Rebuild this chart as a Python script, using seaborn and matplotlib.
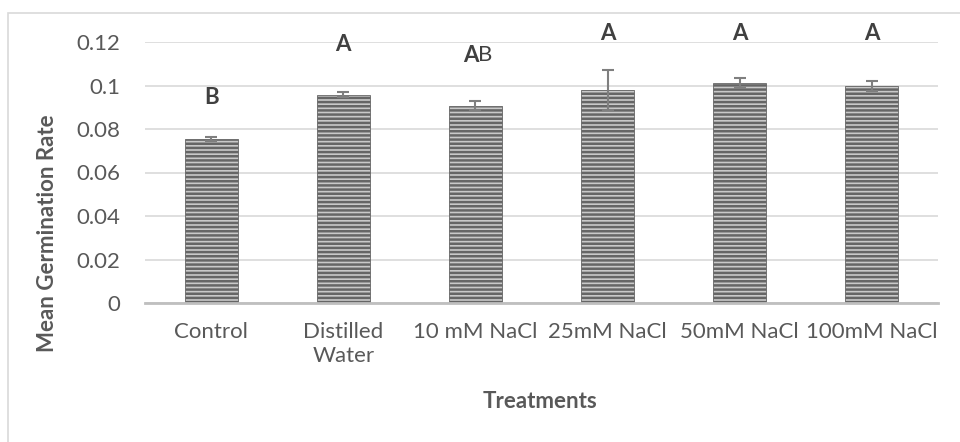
import matplotlib
matplotlib.use("Agg")
import matplotlib.pyplot as plt
import seaborn as sns
import pandas as pd
from matplotlib.patches import Rectangle

treatments = ["Control", "Distilled\nWater", "10 mM NaCl", "25mM NaCl", "50mM NaCl", "100mM NaCl"]
mean_rate = [0.0753, 0.0957, 0.0907, 0.0981, 0.1010, 0.0999]
std_err = [0.0008, 0.0012, 0.0020, 0.0092, 0.0023, 0.0023]
letters_bold = ["B", "A", "A", "A", "A", "A"]
letters_plain = ["", "", "B", "", "", ""]
label_y = [0.0945, 0.1190, 0.1140, 0.1237, 0.1237, 0.1237]
yticks = [0, 0.02, 0.04, 0.06, 0.08, 0.1, 0.12]
ytick_labels = ["0", "0.02", "0.04", "0.06", "0.08", "0.1", "0.12"]

sns.set_theme(style="white")
plt.rcParams["font.family"] = ["Lato", "DejaVu Sans"]
plt.rcParams["hatch.linewidth"] = 1.8

df = pd.DataFrame({"Treatment": treatments, "Rate": mean_rate})

fig = plt.figure(figsize=(9.6, 4.42), dpi=100)
ax = fig.add_axes([145/960, 1-303/442, (938-145)/960, (303-42)/442])

sns.barplot(data=df, x="Treatment", y="Rate", ax=ax, errorbar=None,
            color="#c9c9c9", width=0.4, saturation=1)
for p in ax.patches:
    p.set_hatch("----")
    p.set_edgecolor("#666666")
    p.set_linewidth(0.6)

xs = list(range(len(treatments)))
ax.errorbar(xs, mean_rate, yerr=std_err, fmt="none", ecolor="#7f7f7f",
            elinewidth=1.5, capsize=4.5, capthick=1.5, zorder=5)

fs = 16
for i, (lb, lp, y) in enumerate(zip(letters_bold, letters_plain, label_y)):
    if lp:
        ax.annotate(lb, (i, y), xytext=(2, 0), textcoords="offset points",
                    ha="right", va="center", fontsize=fs, fontweight="bold",
                    color="#404040", annotation_clip=False)
        ax.annotate(lp, (i, y), xytext=(2, 0), textcoords="offset points",
                    ha="left", va="center", fontsize=fs, color="#404040",
                    annotation_clip=False)
    else:
        ax.annotate(lb, (i, y), ha="center", va="center", fontsize=fs,
                    fontweight="bold", color="#404040", annotation_clip=False)

ax.set_ylim(0, 0.12)
ax.set_xlim(-0.5, len(treatments) - 0.5)
ax.set_yticks(yticks)
ax.set_yticklabels(ytick_labels)
ax.yaxis.grid(True, color="#d9d9d9", linewidth=1.2)
ax.set_axisbelow(True)
for s in ["top", "right", "left"]:
    ax.spines[s].set_visible(False)
ax.spines["bottom"].set_color("#bfbfbf")
ax.spines["bottom"].set_linewidth(2)
ax.tick_params(axis="y", length=0, pad=18, labelsize=fs, labelcolor="#595959")
ax.tick_params(axis="x", length=0, pad=14, labelsize=fs, labelcolor="#595959")
ax.set_xlabel("")
ax.set_ylabel("")

fig.text(540/960, 1-402/442, "Treatments", ha="center", va="center",
         fontsize=fs, fontweight="bold", color="#595959")
fig.text(48/960, 1-233/442, "Mean Germination Rate", ha="center", va="center",
         rotation=90, fontsize=fs, fontweight="bold", color="#595959")

fig.patches.append(Rectangle((8/960, -0.2), 1.2, 1-13/442+0.2, transform=fig.transFigure,
                             fill=False, edgecolor="#d9d9d9", linewidth=1.2, clip_on=False))

fig.savefig("out.png", dpi=100)
